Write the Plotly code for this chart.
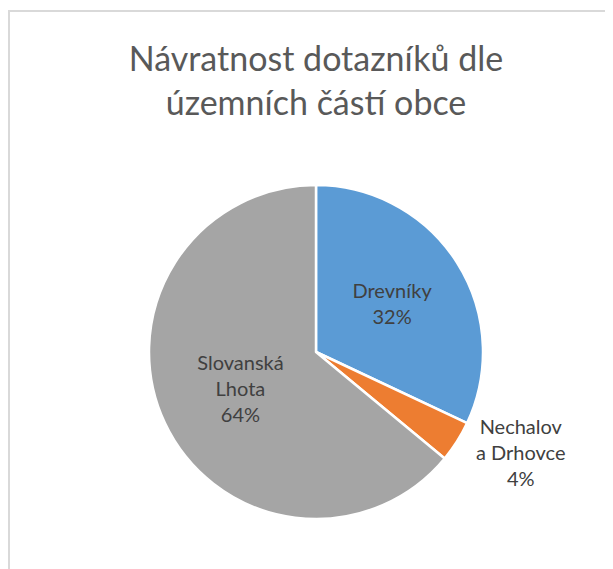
import plotly.graph_objects as go

labels = ["Drevníky", "Nechalov<br>a Drhovce", "Slovanská<br>Lhota"]
values = [32, 4, 64]
colors = ["#5B9BD5", "#ED7D31", "#A5A5A5"]
text_positions = ["inside", "outside", "inside"]

W, H = 613, 569
# page is offset by the body margin (8px), so positions are expressed in figure px
OFF = 8
cx, cy, r = 316 - OFF, 352 - OFF, 167

fig = go.Figure(go.Pie(
    labels=labels,
    values=values,
    sort=False,
    direction="clockwise",
    rotation=0,
    marker=dict(colors=colors, line=dict(color="white", width=2.5)),
    texttemplate="%{label}<br>%{percent:.0%}",
    textposition=text_positions,
    insidetextorientation="horizontal",
    textfont=dict(family="Lato", size=20, color="#404040"),
    showlegend=False,
    hoverinfo="label+percent",
    domain=dict(x=[(cx - r) / W, (cx + r) / W], y=[(H - cy - r) / H, (H - cy + r) / H]),
))

fig.update_layout(
    width=W, height=H,
    margin=dict(l=0, r=0, t=0, b=0),
    paper_bgcolor="white",
    title=dict(
        text="Návratnost dotazníků dle<br>územních částí obce",
        font=dict(family="Lato", size=34, color="#595959"),
        x=(316 - OFF) / W, xanchor="center",
        y=1 - 63 / H, yanchor="top",
    ),
    shapes=[
        dict(type="rect", xref="paper", yref="paper", layer="above",
             x0=0, x1=1, y0=1 - 4 / H, y1=1 - 2 / H,
             line=dict(width=0), fillcolor="#D9D9D9"),
        dict(type="rect", xref="paper", yref="paper", layer="above",
             x0=0, x1=2 / W, y0=0, y1=1 - 2 / H,
             line=dict(width=0), fillcolor="#D9D9D9"),
    ],
)

fig.write_html("out.html")
